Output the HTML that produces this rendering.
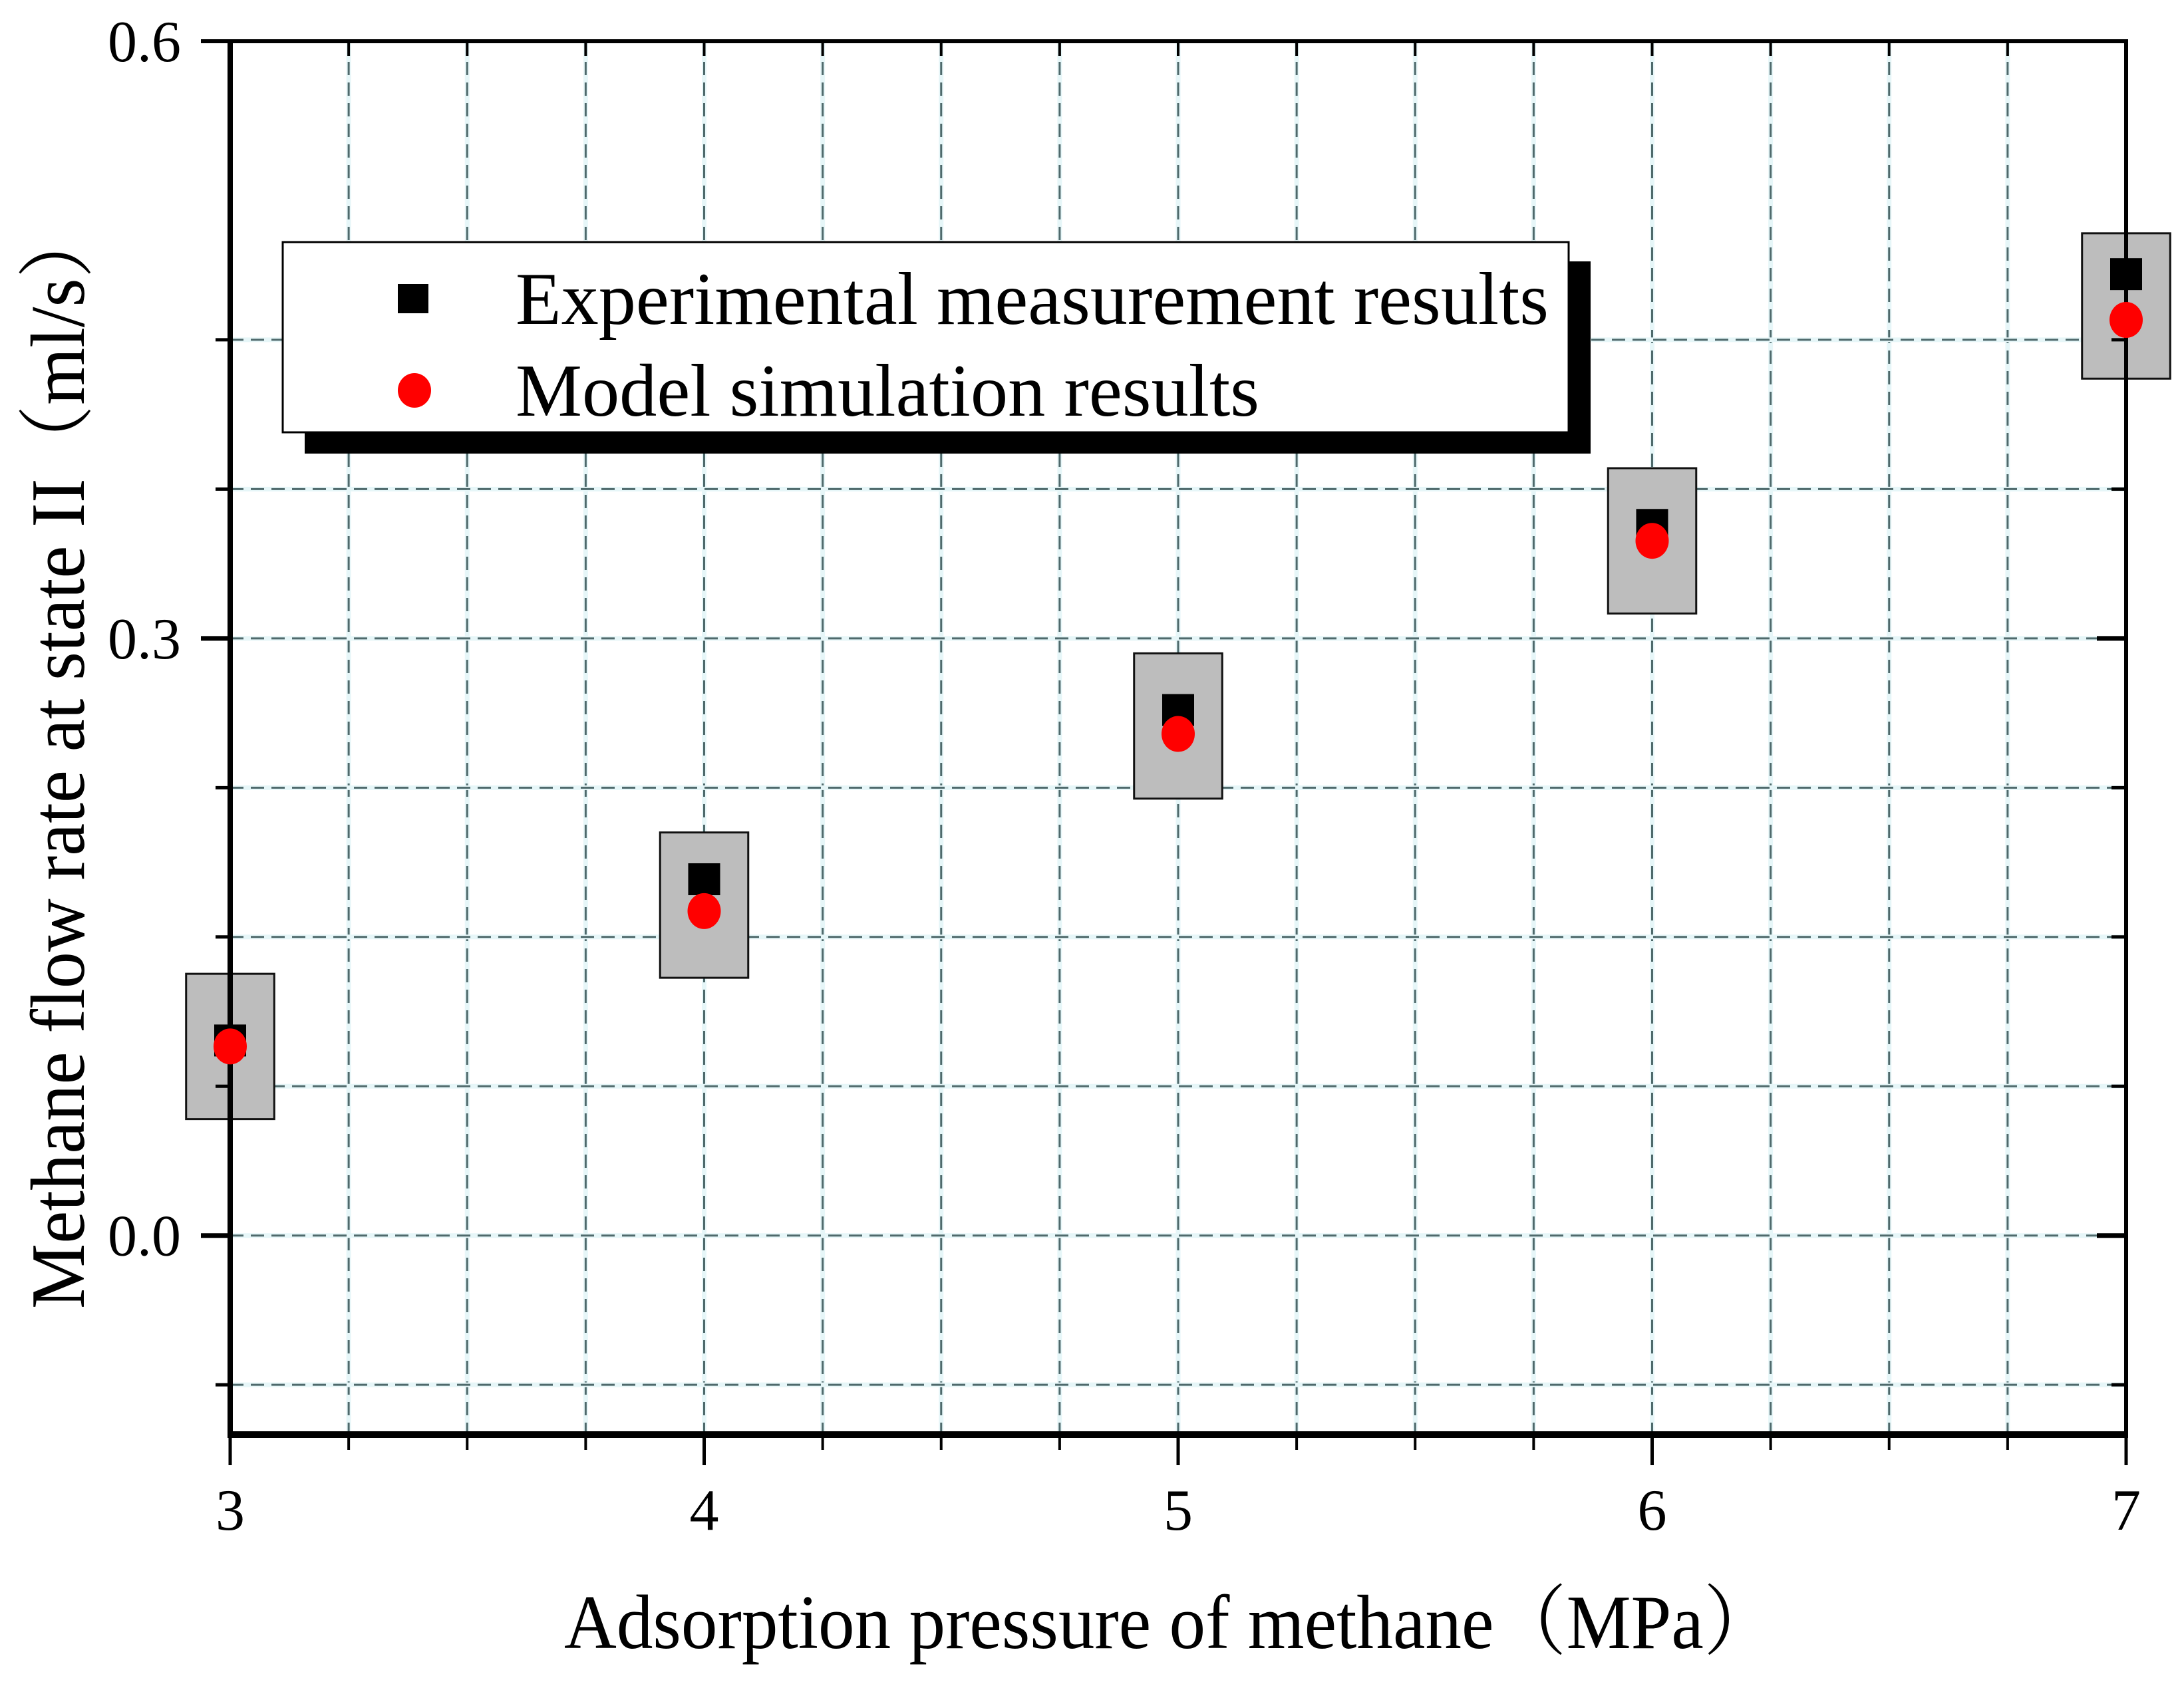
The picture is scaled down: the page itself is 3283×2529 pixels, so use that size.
<!DOCTYPE html>
<html><head><meta charset="utf-8"><style>
html,body{margin:0;padding:0;background:#fff;}
svg{display:block;}
text{font-family:"Liberation Serif","Noto Serif CJK SC",serif;fill:#000;}
</style></head><body>
<svg id="chart" width="3283" height="2529" viewBox="0 0 3283 2529" xmlns="http://www.w3.org/2000/svg">
<g id="grid"></g>
<g id="boxes"></g>
<g id="axes"></g>
<g id="points"></g>
<g id="legend">
  <rect x="458" y="393" width="1933" height="289" fill="#000"/>
  <rect x="425" y="364" width="1933" height="286" fill="#fff" stroke="#000" stroke-width="3"/>
  <rect x="598" y="427" width="46" height="44" fill="#000"/>
  <text x="775" y="487" font-size="112" textLength="1553" lengthAdjust="spacingAndGlyphs">Experimental measurement results</text>
  <ellipse cx="623" cy="587" rx="25" ry="26" fill="#f00"/>
  <text x="775" y="625" font-size="112" textLength="1118" lengthAdjust="spacingAndGlyphs">Model simulation results</text>
</g>
<text x="848" y="2478" font-size="115" textLength="1822" lengthAdjust="spacingAndGlyphs">Adsorption pressure of methane（MPa）</text>
<text transform="translate(126,1138) rotate(-90)" x="0" y="0" text-anchor="middle" font-size="115" textLength="1660" lengthAdjust="spacingAndGlyphs">Methane flow rate at state II（ml/s）</text>
</svg>
<script>
const pressures = [3, 4, 5, 6, 7];
const experimental = [0.098, 0.179, 0.264, 0.357, 0.483];
const model = [0.095, 0.163, 0.252, 0.349, 0.460];
const boxCenter = [0.095, 0.166, 0.256, 0.349, 0.467];
const xTickLabels = ["3", "4", "5", "6", "7"];
const yTickValues = [0.0, 0.3, 0.6];
const yTickLabels = ["0.0", "0.3", "0.6"];
const xMin = 3, xMax = 7, yMin = -0.1, yMax = 0.6;
const boxHalfX = 0.093, boxHalfY = 0.0365;

const L = 346, R = 3196, T = 62, B = 2157;
function sx(v){ return L + (v - xMin) / (xMax - xMin) * (R - L); }
function sy(v){ return B - (v - yMin) / (yMax - yMin) * (B - T); }
const NS = "http://www.w3.org/2000/svg";
function mk(tag, parent, attrs){ const e = document.createElementNS(NS, tag); for (const k in attrs) e.setAttribute(k, attrs[k]); parent.appendChild(e); return e; }

const grid = document.getElementById('grid');
const axes = document.getElementById('axes');
const boxes = document.getElementById('boxes');
const points = document.getElementById('points');

for (let i = 1; i < 16; i++) {
  const v = xMin + i * 0.25; const x = sx(v);
  mk('line', grid, {x1:x, y1:T, x2:x, y2:B, stroke:'#e6f6f8', 'stroke-width':7});
  const g = mk('line', grid, {x1:x, y1:T, x2:x, y2:B, stroke:'#4f6a6c', 'stroke-width':3, 'stroke-dasharray':'20 11'});
  
  
}
for (let i = 1; i < 9; i++) {
  const v = yMin + 0.025 + (i - 1) * 0.075; const y = sy(v);
  mk('line', grid, {x1:L, y1:y, x2:R, y2:y, stroke:'#e6f6f8', 'stroke-width':7});
  const g = mk('line', grid, {x1:L, y1:y, x2:R, y2:y, stroke:'#4f6a6c', 'stroke-width':3, 'stroke-dasharray':'20 11'});
  
  
}

pressures.forEach((p, i) => {
  const x0 = sx(p - boxHalfX), x1 = sx(p + boxHalfX);
  const y0 = sy(boxCenter[i] + boxHalfY), y1 = sy(boxCenter[i] - boxHalfY);
  const r = mk('rect', boxes, {x:x0, y:y0, width:x1 - x0, height:y1 - y0, fill:'#bdbdbd', stroke:'#111', 'stroke-width':3});
  
  
});

mk('line', axes, {x1:L, y1:T, x2:L, y2:B + 4, stroke:'#000', 'stroke-width':8});
mk('line', axes, {x1:R, y1:T, x2:R, y2:B, stroke:'#000', 'stroke-width':6});
mk('line', axes, {x1:L - 44, y1:T, x2:R + 3, y2:T, stroke:'#000', 'stroke-width':6});
mk('line', axes, {x1:L - 4, y1:B, x2:R + 3, y2:B, stroke:'#000', 'stroke-width':10});

for (let i = 0; i <= 16; i++) {
  const v = xMin + i * 0.25; const x = sx(v); const major = (i % 4 === 0);
  mk('line', axes, {x1:x, y1:B, x2:x, y2:B + (major ? 46 : 23), stroke:'#000', 'stroke-width':major ? 5 : 4});
  if (i > 0 && i < 16) mk('line', axes, {x1:x, y1:T, x2:x, y2:T + 22, stroke:'#000', 'stroke-width':4});
}
xTickLabels.forEach((lab, i) => {
  const t = mk('text', axes, {x:sx(pressures[i]), y:2300, 'font-size':88, 'text-anchor':'middle'});
  t.textContent = lab;
  
  
});
for (let i = 1; i < 9; i++) {
  const y = sy(yMin + 0.025 + (i - 1) * 0.075);
  const major = (i === 2 || i === 6);
  mk('line', axes, {x1:L, y1:y, x2:L - (major ? 44 : 22), y2:y, stroke:'#000', 'stroke-width':major ? 7 : 5});
  mk('line', axes, {x1:R, y1:y, x2:R - (major ? 44 : 22), y2:y, stroke:'#000', 'stroke-width':major ? 7 : 5});
}
yTickLabels.forEach((lab, i) => {
  const t = mk('text', axes, {x:272, y:sy(yTickValues[i]) + 30, 'font-size':88, 'text-anchor':'end'});
  t.textContent = lab;
  
  
});

pressures.forEach((p, i) => {
  const s = mk('rect', points, {x:sx(p) - 24, y:sy(experimental[i]) - 24, width:48, height:48, fill:'#000'});
  
  
});
pressures.forEach((p, i) => {
  const c = mk('ellipse', points, {cx:sx(p), cy:sy(model[i]), rx:25, ry:27, fill:'#f00'});
  
  
});
</script>
</body></html>
